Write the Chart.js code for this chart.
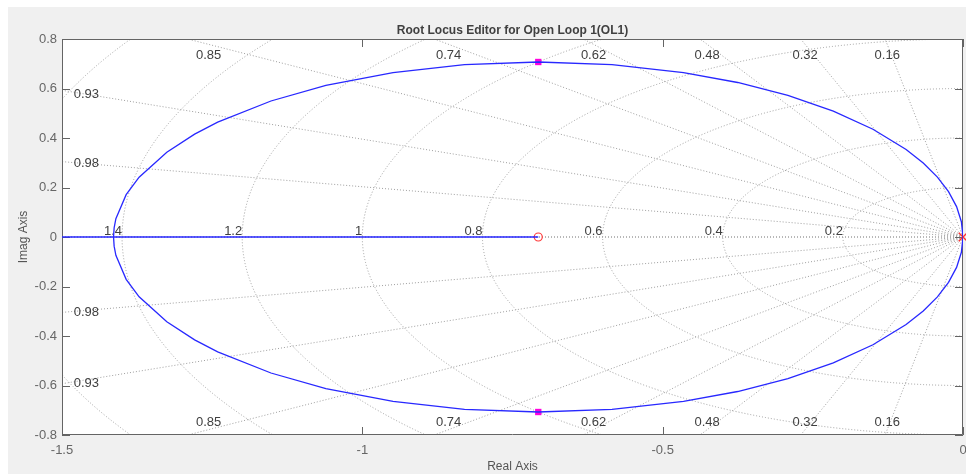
<!DOCTYPE html>
<html lang="en">
<head>
<meta charset="UTF-8">
<title>Root Locus Editor for Open Loop 1(OL1)</title>
<script src="https://cdn.jsdelivr.net/npm/chart.js@4.4.1/dist/chart.umd.min.js"></script>
<style>
  html, body { margin: 0; padding: 0; background: #fff; }
  #wrap { width: 966px; height: 474px; }
</style>
</head>
<body>
<div id="wrap"><canvas id="rl" width="966" height="474"></canvas></div>
<script>
// locus branches (upper and lower half)
const locusRe     = [0, -0.0027, -0.0107, -0.0241, -0.0426, -0.0662, -0.0947, -0.1499, -0.2159, -0.2915, -0.3751, -0.4653, -0.5843, -0.7071, -0.8299, -0.9489, -1.0607, -1.1521, -1.2408, -1.2792, -1.3255, -1.3716, -1.3932, -1.4103, -1.4132, -1.4142];
const locusImUp   = [0, 0.0617, 0.1228, 0.1830, 0.2418, 0.2988, 0.3536, 0.4354, 0.5086, 0.5721, 0.6243, 0.6645, 0.6964, 0.7071, 0.6964, 0.6645, 0.6124, 0.5495, 0.4639, 0.4156, 0.3428, 0.2418, 0.1711, 0.0739, 0.0370, 0];
const locusImDown = [0, -0.0617, -0.1228, -0.1830, -0.2418, -0.2988, -0.3536, -0.4354, -0.5086, -0.5721, -0.6243, -0.6645, -0.6964, -0.7071, -0.6964, -0.6645, -0.6124, -0.5495, -0.4639, -0.4156, -0.3428, -0.2418, -0.1711, -0.0739, -0.0370, 0];

// branch on the real axis, from the left edge to the zero
const realRe = [-1.5, -0.7071];
const realIm = [0, 0];

// open loop pole / zero and the closed loop poles
const poleRe = [0];
const poleIm = [0];
const zeroRe = [-0.7071];
const zeroIm = [0];
const clRe = [-0.7071, -0.7071];
const clIm = [0.7071, -0.7071];

// s-plane grid: damping ratios and natural frequencies
const zetas = [0.16, 0.32, 0.48, 0.62, 0.74, 0.85, 0.93, 0.98];
const wns = [0.2, 0.4, 0.6, 0.8, 1, 1.2, 1.4, 1.6];

const xTicks = [-1.5, -1, -0.5, 0];
const yTicks = [-0.8, -0.6, -0.4, -0.2, 0, 0.2, 0.4, 0.6, 0.8];

const FONT = "'Liberation Sans', Arial, Helvetica, sans-serif";
Chart.defaults.font.family = FONT;

function pts(xs, ys) {
    return xs.map((v, i) => ({ x: v, y: ys[i] }));
}

function fmt(v) {
    return String(Math.round(v * 10) / 10);
}

// grey figure, white axes
const background = {
    id: 'background',
    beforeDraw(chart) {
        const { ctx, width, height, chartArea: a } = chart;
        ctx.save();
        ctx.fillStyle = '#ffffff';
        ctx.fillRect(0, 0, width, height);
        ctx.fillStyle = '#f0f0f0';
        ctx.fillRect(8, 7, width - 8, height - 7);
        ctx.fillStyle = '#ffffff';
        ctx.fillRect(a.left, a.top, a.right - a.left, a.bottom - a.top);
        ctx.restore();
    }
};

// dotted damping rays, frequency circles and their labels
const sgrid = {
    id: 'sgrid',
    beforeDatasetsDraw(chart) {
        const { ctx, chartArea: a, scales: { x, y } } = chart;
        const x0 = x.getPixelForValue(0);
        const y0 = y.getPixelForValue(0);

        ctx.save();
        ctx.beginPath();
        ctx.rect(a.left, a.top, a.right - a.left, a.bottom - a.top);
        ctx.clip();
        ctx.strokeStyle = '#a0a0a0';
        ctx.lineWidth = 1;
        ctx.setLineDash([1, 2]);

        wns.forEach(w => {
            const rx = x0 - x.getPixelForValue(-w);
            const ry = y.getPixelForValue(-w) - y0;
            ctx.beginPath();
            ctx.ellipse(x0, y0, rx, ry, 0, Math.PI / 2, Math.PI * 1.5);
            ctx.stroke();
        });

        zetas.concat([1]).forEach(z => {
            const s = Math.sqrt(1 - z * z);
            [1, -1].forEach(sg => {
                ctx.beginPath();
                ctx.moveTo(x0, y0);
                ctx.lineTo(x.getPixelForValue(-4 * z), y.getPixelForValue(sg * 4 * s));
                ctx.stroke();
            });
        });
        ctx.restore();

        // labels
        ctx.save();
        ctx.fillStyle = '#404040';
        ctx.font = '13px ' + FONT;
        zetas.forEach(z => {
            const s = Math.sqrt(1 - z * z);
            const xTop = -y.max * z / s;
            const txt = String(z);
            ctx.textAlign = 'center';
            ctx.textBaseline = 'middle';
            if (xTop > x.min) {
                const px = x.getPixelForValue(0.973 * xTop);
                ctx.fillText(txt, px, a.top + 16);
                ctx.fillText(txt, px, a.bottom - 13);
            } else {
                const xa = 0.973 * x.min;
                const px = x.getPixelForValue(xa);
                ctx.fillText(txt, px, y.getPixelForValue(-xa * s / z));
                ctx.fillText(txt, px, y.getPixelForValue(x.min * s / z));
            }
        });
        ctx.textAlign = 'right';
        ctx.textBaseline = 'alphabetic';
        wns.forEach(w => {
            if (-w > x.min) ctx.fillText(String(w), x.getPixelForValue(-w), y0 - 2);
        });
        ctx.restore();

        // axes box with inward ticks
        ctx.save();
        ctx.strokeStyle = '#646464';
        ctx.lineWidth = 1;
        ctx.beginPath();
        ctx.rect(a.left + 0.5, a.top + 0.5, a.right - a.left - 1, a.bottom - a.top - 1);
        x.ticks.forEach(t => {
            const px = Math.round(x.getPixelForValue(t.value)) + 0.5;
            ctx.moveTo(px, a.bottom); ctx.lineTo(px, a.bottom - 8);
            ctx.moveTo(px, a.top); ctx.lineTo(px, a.top + 8);
        });
        y.ticks.forEach(t => {
            const py = Math.round(y.getPixelForValue(t.value)) + 0.5;
            ctx.moveTo(a.left, py); ctx.lineTo(a.left + 8, py);
            ctx.moveTo(a.right, py); ctx.lineTo(a.right - 8, py);
        });
        ctx.stroke();
        ctx.restore();
    }
};

const BLUE = '#2828ff';

new Chart(document.getElementById('rl'), {
    type: 'scatter',
    data: {
        datasets: [
            { data: pts(locusRe, locusImUp), showLine: true, borderColor: BLUE, borderWidth: 1.3, pointRadius: 0, tension: 0 },
            { data: pts(locusRe, locusImDown), showLine: true, borderColor: BLUE, borderWidth: 1.3, pointRadius: 0, tension: 0 },
            { data: pts(realRe, realIm), showLine: true, borderColor: BLUE, borderWidth: 1.5, pointRadius: 0 },
            { data: pts(clRe, clIm), pointStyle: 'rect', pointRadius: 4.5, backgroundColor: '#ff00e0', borderColor: '#ff00e0', borderWidth: 0 },
            { data: pts(zeroRe, zeroIm), pointStyle: 'circle', pointRadius: 4, backgroundColor: 'rgba(0,0,0,0)', borderColor: '#ff3a3a', borderWidth: 1.2 },
            { data: pts(poleRe, poleIm), pointStyle: 'crossRot', pointRadius: 6, borderColor: '#ff3030', borderWidth: 1.4, clip: false }
        ]
    },
    options: {
        responsive: false,
        animation: false,
        events: [],
        layout: { autoPadding: false, padding: { left: 0, right: 3, top: 0, bottom: 0 } },
        plugins: {
            legend: { display: false },
            tooltip: { enabled: false },
            title: {
                display: true,
                fullSize: false,
                text: 'Root Locus Editor for Open Loop 1(OL1)',
                color: '#404040',
                font: { size: 12, weight: 'bold' },
                padding: { top: 23.8, bottom: 0.8 }
            }
        },
        scales: {
            x: {
                type: 'linear',
                min: -1.5,
                max: 0,
                afterBuildTicks: s => { s.ticks = xTicks.map(v => ({ value: v })); },
                afterFit: s => { s.height = 39; s.paddingLeft = 0; s.paddingRight = 0; },
                grid: { display: false, drawTicks: false },
                border: { display: false },
                ticks: { color: '#666666', font: { size: 13 }, padding: 8, callback: v => fmt(v) },
                title: { display: true, text: 'Real Axis', color: '#555555', font: { size: 12 }, padding: { top: 0, bottom: 0 } }
            },
            y: {
                type: 'linear',
                min: -0.8,
                max: 0.8,
                afterBuildTicks: s => { s.ticks = yTicks.map(v => ({ value: v })); },
                afterFit: s => { s.width = 62; },
                grid: { display: false, drawTicks: false },
                border: { display: false },
                ticks: { color: '#666666', font: { size: 13 }, padding: 5, callback: v => fmt(v) },
                title: { display: true, text: 'Imag Axis', color: '#555555', font: { size: 12 }, padding: { top: 16, bottom: 0 } }
            }
        }
    },
    plugins: [background, sgrid]
});
</script>
</body>
</html>
